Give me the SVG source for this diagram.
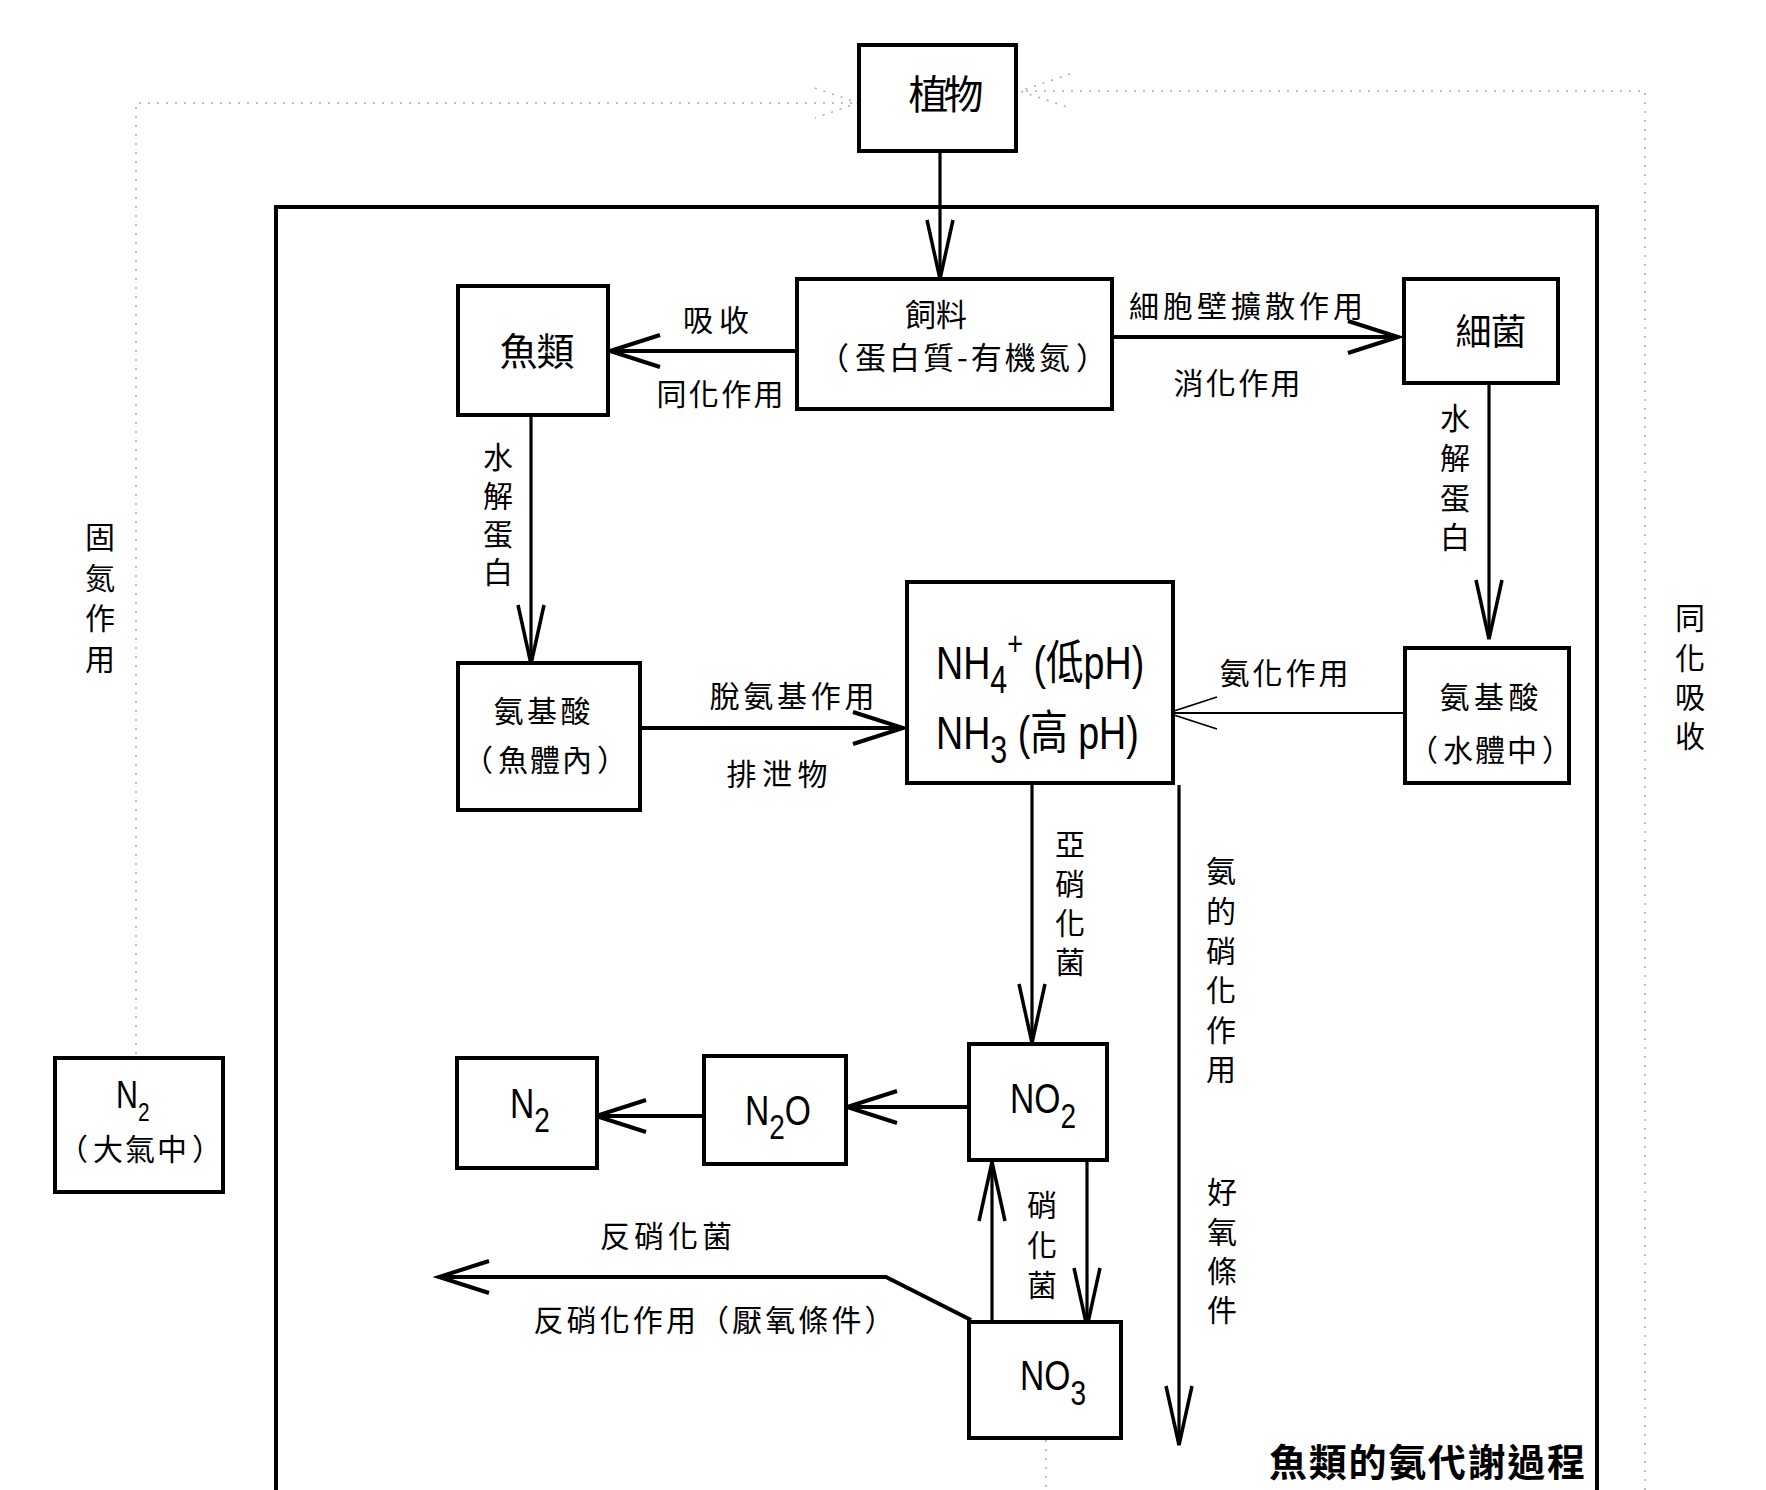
<svg xmlns="http://www.w3.org/2000/svg" width="1766" height="1490" viewBox="0 0 1766 1490">
<style>
.bg{fill:#fff}
.box{fill:#fff;stroke:#000;stroke-width:4}
.ln{fill:none;stroke:#000;stroke-width:4}
.lv{fill:none;stroke:#000;stroke-width:3.2}
.lt{fill:none;stroke:#000;stroke-width:1.8}
.dot{fill:none;stroke:#aaa;stroke-width:1.5;stroke-dasharray:2 7}
.frame{fill:none;stroke:#000;stroke-width:4}
.zh{font-family:"Noto Sans CJK TC","Noto Sans CJK SC",sans-serif;font-size:30px;fill:#000;text-anchor:middle}
.par{letter-spacing:2px}
.vt{font-family:"Noto Sans CJK TC","Noto Sans CJK SC",sans-serif;font-size:30px;fill:#000;writing-mode:vertical-rl;text-anchor:start}
.chem{font-family:"Liberation Sans","Noto Sans CJK TC",sans-serif;fill:#000}
.title{font-family:"Noto Sans CJK TC",sans-serif;font-size:38px;font-weight:bold;fill:#000;text-anchor:middle}
</style>
<defs>
<marker id="hw" viewBox="-60 -20 64 40" markerWidth="64" markerHeight="40" refX="0" refY="0" markerUnits="userSpaceOnUse" orient="auto" overflow="visible"><path d="M-50,-16 L0,0 L-50,16" fill="none" stroke="#000" stroke-width="4"/></marker>
<marker id="hn" viewBox="-62 -16 64 32" markerWidth="64" markerHeight="32" refX="0" refY="0" markerUnits="userSpaceOnUse" orient="auto" overflow="visible"><path d="M-59,-13 L0,0 L-59,13" fill="none" stroke="#000" stroke-width="3.5"/></marker>
<marker id="ht" viewBox="-60 -20 64 40" markerWidth="64" markerHeight="40" refX="0" refY="0" markerUnits="userSpaceOnUse" orient="auto" overflow="visible"><path d="M-49,-16 L0,0 L-49,16" fill="none" stroke="#000" stroke-width="1.8"/></marker>
</defs>
<rect class="bg" x="0" y="0" width="1766" height="1490"/>

<g id="frame">
<path class="frame" d="M276,1490 V207 H1597 V1490"/>
</g>

<g id="connectors">
<path class="dot" d="M136,1063 V103 H856"/>
<path class="dot" d="M815,88 L858,103 L815,118"/>
<path class="dot" d="M1645,1490 V91 H1020"/>
<path class="dot" d="M1070,74 L1020,91 L1070,108"/>
<path class="dot" d="M1046,1440 V1490"/>
<path class="lv" d="M940,150 V279" marker-end="url(#hn)"/>
<path class="ln" d="M797,351 H610" marker-end="url(#hw)"/>
<path class="ln" d="M1112,337 H1398" marker-end="url(#hw)"/>
<path class="lv" d="M531,415 V664" marker-end="url(#hn)"/>
<path class="ln" d="M640,728 H903" marker-end="url(#hw)"/>
<path class="lv" d="M1489,383 V639" marker-end="url(#hn)"/>
<path class="lt" d="M1405,713 H1168" marker-end="url(#ht)"/>
<path class="lv" d="M1032,783 V1043" marker-end="url(#hn)"/>
<path class="lv" d="M1179,785 V1445" marker-end="url(#hn)"/>
<path class="ln" d="M969,1107 H847" marker-end="url(#hw)"/>
<path class="ln" d="M703,1116 H596" marker-end="url(#hw)"/>
<path class="lv" d="M992,1322 V1162" marker-end="url(#hn)"/>
<path class="lv" d="M1087,1161 V1327" marker-end="url(#hn)"/>
<path class="ln" d="M971,1320 L886,1277 L439,1277" marker-end="url(#hw)"/>
</g>

<g id="labels">
<text class="zh" x="716" y="331" textLength="66">吸收</text>
<text class="zh" x="720" y="405" textLength="127">同化作用</text>
<text class="zh" x="1246" y="317" textLength="234">細胞壁擴散作用</text>
<text class="zh" x="1237" y="394" textLength="127">消化作用</text>
<text class="zh" x="792" y="707" textLength="165">脫氨基作用</text>
<text class="zh" x="777" y="785" textLength="101">排泄物</text>
<text class="zh" x="1284" y="684" textLength="129">氨化作用</text>
<text class="zh" x="666" y="1247" textLength="132">反硝化菌</text>
<text class="zh" x="714" y="1331" textLength="361">反硝化作用（厭氧條件）</text>
<text class="vt" x="498" y="442" style="letter-spacing:8.3px">水解蛋白</text>
<text class="vt" x="1455" y="403" style="letter-spacing:9.7px">水解蛋白</text>
<text class="vt" x="100" y="522" style="letter-spacing:10.5px">固氮作用</text>
<text class="vt" x="1690" y="603" style="letter-spacing:9.3px">同化吸收</text>
<text class="vt" x="1070" y="829" style="letter-spacing:9.3px">亞硝化菌</text>
<text class="vt" x="1221" y="856" style="letter-spacing:9.6px">氨的硝化作用</text>
<text class="vt" x="1222" y="1177" style="letter-spacing:9.3px">好氧條件</text>
<text class="vt" x="1042" y="1190" style="letter-spacing:10px">硝化菌</text>
<text class="title" x="1427" y="1476" textLength="316">魚類的氨代謝過程</text>
</g>

<g id="n-plant">
<rect class="box" x="859" y="45" width="157" height="106"/>
<text class="zh" x="946" y="109" style="font-size:40px" textLength="75">植物</text>
</g>
<g id="n-feed">
<rect class="box" x="797" y="279" width="315" height="130"/>
<text class="zh" x="936" y="326" style="font-size:31px" textLength="62">飼料</text>
<text class="zh" x="964" y="369" style="font-size:31px;letter-spacing:3px">（<tspan dx="3">蛋白質-有機氮</tspan><tspan dx="3">）</tspan></text>
</g>
<g id="n-fish">
<rect class="box" x="458" y="286" width="150" height="129"/>
<text class="zh" x="537" y="365" style="font-size:38px" textLength="75">魚類</text>
</g>
<g id="n-bacteria">
<rect class="box" x="1404" y="279" width="154" height="104"/>
<text class="zh" x="1491" y="345" style="font-size:36px" textLength="71">細菌</text>
</g>
<g id="n-aa-fish">
<rect class="box" x="458" y="663" width="182" height="147"/>
<text class="zh" x="542" y="722" textLength="97">氨基酸</text>
<text class="zh par" x="546" y="771">（<tspan dx="3">魚體內</tspan><tspan dx="3">）</tspan></text>
</g>
<g id="n-aa-water">
<rect class="box" x="1405" y="648" width="164" height="135"/>
<text class="zh" x="1489" y="708" textLength="99">氨基酸</text>
<text class="zh par" x="1491" y="761">（<tspan dx="3">水體中</tspan><tspan dx="3">）</tspan></text>
</g>
<g id="n-nh">
<rect class="box" x="907" y="582" width="266" height="201"/>
<text class="chem" font-size="47" transform="translate(936,679) scale(0.8,1)">NH<tspan font-size="38" dy="14">4</tspan><tspan font-size="34" dy="-38">+</tspan><tspan dy="24"> (低pH)</tspan></text>
<text class="chem" font-size="47" transform="translate(936,749) scale(0.8,1)">NH<tspan font-size="38" dy="14">3</tspan><tspan dy="-14"> (高 pH)</tspan></text>
</g>
<g id="n-no2">
<rect class="box" x="969" y="1044" width="138" height="116"/>
<text class="chem" font-size="42" transform="translate(1010,1113) scale(0.8,1)">NO<tspan font-size="35" dy="15">2</tspan></text>
</g>
<g id="n-no3">
<rect class="box" x="969" y="1322" width="152" height="116"/>
<text class="chem" font-size="42" transform="translate(1020,1390) scale(0.8,1)">NO<tspan font-size="35" dy="15">3</tspan></text>
</g>
<g id="n-n2o">
<rect class="box" x="704" y="1056" width="142" height="108"/>
<text class="chem" font-size="42" transform="translate(745,1125) scale(0.8,1)">N<tspan font-size="35" dy="14">2</tspan><tspan dy="-14">O</tspan></text>
</g>
<g id="n-n2">
<rect class="box" x="457" y="1058" width="140" height="110"/>
<text class="chem" font-size="42" transform="translate(510,1118) scale(0.8,1)">N<tspan font-size="35" dy="14">2</tspan></text>
</g>
<g id="n-n2-air">
<rect class="box" x="55" y="1058" width="168" height="134"/>
<text class="chem" font-size="38" transform="translate(116,1108) scale(0.8,1)">N<tspan font-size="26" dy="13">2</tspan></text>
<text class="zh par" x="141" y="1160">（<tspan dx="3">大氣中</tspan><tspan dx="3">）</tspan></text>
</g>
</svg>
